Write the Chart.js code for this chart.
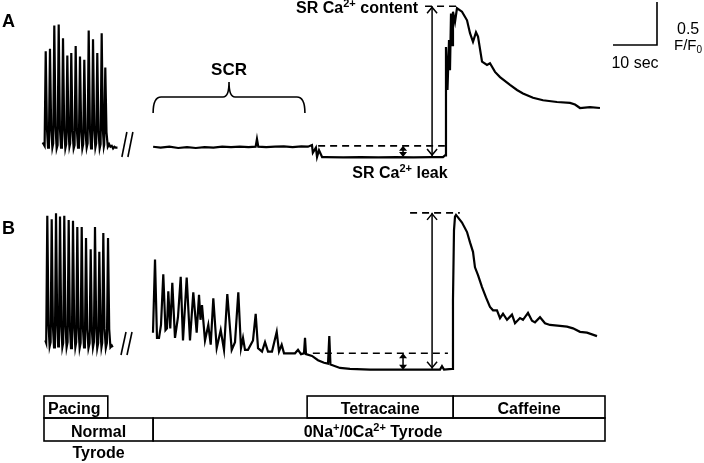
<!DOCTYPE html>
<html>
<head>
<meta charset="utf-8">
<script src="https://cdn.jsdelivr.net/npm/chart.js@4"></script>
<style>
  html, body { margin: 0; padding: 0; background: #fff; }
  canvas { display: block; }
</style>
</head>
<body>
<canvas id="traces" width="704" height="463"></canvas>
<script>
// [time (s), Ca2+ signal (F/F0)]
// panel A: field pacing in normal Tyrode
const paceA = [
  [-0.3, 1.03], [0.14, 0.99], [0.39, 2.09], [0.66, 1.2], [0.92, 0.97],
  [1.11, 1.01], [1.36, 2.12], [1.63, 1.18], [1.9, 0.97],
  [2.09, 1.02], [2.34, 2.39], [2.61, 1.22], [2.88, 0.96],
  [3.09, 1.0], [3.34, 2.40], [3.61, 1.2], [3.87, 0.97],
  [4.07, 1.02], [4.32, 2.24], [4.59, 1.18], [4.85, 0.96],
  [5.05, 1.01], [5.30, 2.04], [5.57, 1.16], [5.78, 0.98],
  [5.95, 1.02], [6.20, 2.07], [6.47, 1.17], [6.74, 0.96],
  [6.95, 1.0], [7.20, 2.15], [7.47, 1.18], [7.73, 0.97],
  [7.93, 1.02], [8.18, 2.03], [8.45, 1.16], [8.71, 0.96],
  [8.91, 1.01], [9.16, 1.99], [9.43, 1.15], [9.7, 0.97],
  [9.91, 1.02], [10.16, 2.33], [10.43, 1.2], [10.69, 0.96],
  [10.89, 1.0], [11.14, 2.23], [11.41, 1.18], [11.67, 0.97],
  [11.86, 1.02], [12.11, 2.07], [12.38, 1.16], [12.65, 0.96],
  [12.86, 1.01], [13.11, 2.30], [13.38, 1.18], [13.6, 0.98],
  [13.68, 1.0], [13.93, 1.90], [14.2, 1.15], [14.5, 0.98],
  [14.8, 1.01], [15.1, 0.98], [15.4, 0.99], [15.7, 0.96], [16.0, 0.98], [16.3, 0.97], [16.7, 0.97]
];
// panel A: 0Na+/0Ca2+ rest, tetracaine, caffeine
const restA = [
  [24.8, 0.98], [26.5, 0.97], [28.5, 0.98], [30.5, 0.965], [32.5, 0.975], [34.5, 0.965],
  [36.5, 0.975], [38.5, 0.97], [40.5, 0.98], [42.5, 0.975], [44.5, 0.98], [46.5, 0.975],
  [48.1, 0.98], [48.4, 1.07], [48.7, 0.98], [50.5, 0.975], [52.5, 0.98], [54.5, 0.985],
  [56.5, 0.975], [58.5, 0.985], [60.0, 0.98],
  [60.9, 1.0], [61.1, 0.91], [61.8, 0.97], [62.05, 0.86], [62.5, 0.94], [63.2, 0.86],
  [63.9, 0.86], [68, 0.855], [72, 0.86], [76, 0.855], [80, 0.86], [84, 0.855], [88, 0.86], [90.68, 0.86],
  [91.14, 0.88], [91.36, 2.14], [91.70, 1.64], [92.05, 2.22], [92.27, 1.87], [92.5, 2.53],
  [92.73, 2.16], [92.95, 2.55], [93.41, 2.43], [93.86, 2.59], [95.0, 2.55], [96.14, 2.45],
  [96.82, 2.30], [97.5, 2.20], [98.18, 2.31], [98.64, 2.26], [99.55, 1.97], [100.68, 1.93],
  [101.36, 1.95], [102.5, 1.85], [103.64, 1.79], [105.91, 1.70], [107.5, 1.64], [108.86, 1.60],
  [111.14, 1.55], [113.41, 1.52], [116.59, 1.50], [119.55, 1.49], [120.68, 1.47], [121.82, 1.43],
  [124.09, 1.44], [126.36, 1.43]
];
// panel B
const paceB = [
  [0.3, 1.03], [0.5, 1.0], [0.75, 2.48], [1.02, 1.22], [1.28, 0.96],
  [1.5, 1.01], [1.75, 2.44], [2.02, 1.2], [2.28, 0.95],
  [2.48, 1.0], [2.73, 2.51], [3.0, 1.22], [3.22, 0.96],
  [3.39, 1.01], [3.64, 2.47], [3.91, 1.2], [4.17, 0.95],
  [4.36, 1.0], [4.61, 2.48], [4.88, 1.2], [5.14, 0.95],
  [5.36, 1.01], [5.61, 2.43], [5.88, 1.2], [6.14, 0.94],
  [6.34, 1.0], [6.59, 2.42], [6.86, 1.18], [7.12, 0.95],
  [7.32, 1.01], [7.57, 2.35], [7.84, 1.18], [8.1, 0.94],
  [8.32, 1.0], [8.57, 2.35], [8.84, 1.18], [9.1, 0.95],
  [9.3, 1.01], [9.55, 2.22], [9.82, 1.16], [10.1, 0.94],
  [10.36, 1.0], [10.61, 2.09], [10.88, 1.15], [11.13, 0.95],
  [11.34, 1.01], [11.59, 2.35], [11.86, 1.18], [12.1, 0.94],
  [12.32, 1.0], [12.57, 2.06], [12.84, 1.15], [13.06, 0.95],
  [13.23, 1.0], [13.48, 2.28], [13.75, 1.17], [14.05, 0.94],
  [14.3, 1.0], [14.55, 2.22], [14.82, 1.16], [15.1, 0.95], [15.4, 0.97], [15.6, 0.95]
];
const restB = [
  [24.77, 1.12], [25.23, 1.97], [25.68, 1.06], [26.14, 1.06], [26.59, 1.21], [27.11, 1.80],
  [27.61, 1.15], [27.95, 1.17], [28.25, 1.60], [28.70, 1.17], [29.16, 1.70], [29.77, 1.06],
  [30.45, 1.30], [31.07, 1.77], [31.59, 1.03], [32.43, 1.76], [33.18, 1.03], [33.93, 1.59],
  [34.70, 1.12], [35.23, 1.56], [35.57, 1.27], [35.91, 1.44], [36.59, 1.03], [37.34, 1.21],
  [37.89, 0.98], [38.48, 1.52], [39.25, 0.94], [40.16, 1.15], [40.91, 0.92], [41.66, 1.57],
  [42.66, 0.92], [43.41, 1.01], [44.16, 1.59], [44.77, 0.94], [45.23, 1.06], [45.68, 0.92],
  [46.36, 0.92], [47.5, 1.03], [48.11, 1.34], [48.64, 0.94], [49.55, 0.90], [50.23, 1.01],
  [50.91, 0.90], [51.82, 0.90], [52.89, 1.13], [53.41, 0.90], [54.02, 0.98], [54.55, 0.88],
  [55.91, 0.88], [57.05, 0.88], [57.73, 0.92], [58.41, 0.87], [59.09, 0.88], [59.32, 1.06],
  [59.55, 0.87], [60.91, 0.85], [62.27, 0.80], [63.64, 0.77], [64.55, 0.76], [64.84, 1.08],
  [65.1, 0.75], [67.27, 0.71], [69.55, 0.70], [74.09, 0.69], [80.91, 0.69], [85.45, 0.69],
  [90.0, 0.69], [90.45, 0.73], [90.91, 0.69], [92.73, 0.70],
  [92.95, 1.50], [93.18, 2.31], [93.41, 2.47], [93.64, 2.49], [95.0, 2.40], [96.14, 2.29],
  [96.82, 2.17], [97.5, 2.06], [97.95, 1.88], [98.64, 1.79], [99.55, 1.65], [100.45, 1.53],
  [101.36, 1.42], [102.05, 1.38], [102.95, 1.38], [103.64, 1.29], [104.32, 1.34], [105.23, 1.27],
  [106.36, 1.33], [107.05, 1.23], [108.18, 1.29], [108.86, 1.27], [110.0, 1.35], [110.91, 1.26],
  [111.59, 1.24], [112.73, 1.30], [113.86, 1.23], [115.0, 1.21], [117.27, 1.20], [118.86, 1.19],
  [120.23, 1.17], [121.82, 1.13], [123.41, 1.12], [125.68, 1.08]
];

// protocol bar
const pacingTimes = [0, 14.5];
const solutionLabels = ['Normal', '0Na^{+}/0Ca^{2+} Tyrode'];
const solutionTimes = [0, 24.8, 127.5];
const drugLabels = ['Tetracaine', 'Caffeine'];
const drugTimes = [59.8, 93.0, 127.5];

// levels used for the SR content / leak markers (F/F0)
const restLevels = [0.99, 0.88];   // A, B before tetracaine
const tetraLevels = [0.86, 0.69];  // A, B in tetracaine

const toXY = arr => arr.map(p => ({ x: p[0], y: p[1] }));
const peakOf = arr => Math.max(...arr.filter(p => p[0] > 90).map(p => p[1]));

// 86 px per F/F0 unit, baseline of A at 145 px, B at 343 px
const H = 463, unit = 86;
const yRange = base => ({ min: 1 - (H - base) / unit, max: 1 + base / unit });

const FAM = '"Liberation Sans", Arial, Helvetica, sans-serif';

function parseRich(s) {
  const parts = [];
  const re = /([\^_])\{([^}]*)\}/g;
  let last = 0, m;
  while ((m = re.exec(s))) {
    if (m.index > last) parts.push([s.slice(last, m.index), 0]);
    parts.push([m[2], m[1] === '^' ? -1 : 1]);
    last = re.lastIndex;
  }
  if (last < s.length) parts.push([s.slice(last), 0]);
  return parts;
}

function drawText(ctx, s, x, y, size, opts = {}) {
  const weight = opts.bold === false ? '' : 'bold ';
  const sx = opts.sx || 1;
  const parts = parseRich(s);
  const fontFor = k => weight + (k ? Math.round(size * 0.66) : size) + 'px ' + FAM;
  let w = 0;
  parts.forEach(p => { ctx.font = fontFor(p[1]); w += ctx.measureText(p[0]).width * sx; });
  let cx = opts.align === 'center' ? x - w / 2 : opts.align === 'right' ? x - w : x;
  ctx.textAlign = 'left';
  ctx.textBaseline = 'alphabetic';
  parts.forEach(p => {
    ctx.font = fontFor(p[1]);
    const dy = p[1] === -1 ? -size * 0.4 : p[1] === 1 ? size * 0.22 : 0;
    ctx.save();
    ctx.translate(cx, y + dy);
    ctx.scale(sx, 1);
    ctx.fillText(p[0], 0, 0);
    ctx.restore();
    cx += ctx.measureText(p[0]).width * sx;
  });
}

function line(ctx, x1, y1, x2, y2) {
  ctx.beginPath(); ctx.moveTo(x1, y1); ctx.lineTo(x2, y2); ctx.stroke();
}

function dashed(ctx, x1, x2, y) {
  ctx.save();
  ctx.setLineDash([7, 5]);
  ctx.lineWidth = 1.6;
  line(ctx, x1, y, x2, y);
  ctx.restore();
}

// vertical double arrow with open heads
function arrow(ctx, x, y1, y2) {
  ctx.lineWidth = 1.5;
  line(ctx, x, y1, x, y2);
  ctx.beginPath();
  ctx.moveTo(x - 5, y1 + 7); ctx.lineTo(x, y1 + 1); ctx.lineTo(x + 5, y1 + 7);
  ctx.moveTo(x - 5, y2 - 7); ctx.lineTo(x, y2 - 1); ctx.lineTo(x + 5, y2 - 7);
  ctx.stroke();
}

// short double arrow with filled heads
function smallArrow(ctx, x, y1, y2) {
  ctx.lineWidth = 1.5;
  line(ctx, x, y1 + 2, x, y2 - 2);
  ctx.beginPath();
  ctx.moveTo(x - 4, y1 + 5); ctx.lineTo(x, y1); ctx.lineTo(x + 4, y1 + 5); ctx.closePath();
  ctx.moveTo(x - 4, y2 - 5); ctx.lineTo(x, y2); ctx.lineTo(x + 4, y2 - 5); ctx.closePath();
  ctx.fill();
}

function breakMark(ctx, x, yTop, yBot) {
  ctx.lineWidth = 1.6;
  line(ctx, x, yBot, x + 5, yTop);
  line(ctx, x + 6, yBot, x + 11, yTop);
}

const annotations = {
  id: 'annotations',
  afterDatasetsDraw(chart) {
    const { ctx } = chart;
    const xs = chart.scales.x;
    const X = t => xs.getPixelForValue(t);
    const panels = [chart.scales.yA, chart.scales.yB];
    const peaks = [peakOf(restA), peakOf(restB)];
    ctx.save();
    ctx.strokeStyle = '#000';
    ctx.fillStyle = '#000';
    ctx.lineCap = 'butt';

    // panel letters
    drawText(ctx, 'A', 2, 27, 18);
    drawText(ctx, 'B', 2, 234, 18);

    // break marks
    breakMark(ctx, X(17.7), 132, 157);
    breakMark(ctx, X(17.5), 332, 355);

    // SCR bracket
    const bl = X(24.8), br = X(59.3), bm = (bl + br) / 2;
    ctx.lineWidth = 1.6;
    ctx.beginPath();
    ctx.moveTo(bl, 113);
    ctx.quadraticCurveTo(bl, 97, bl + 8, 97);
    ctx.lineTo(bm - 6, 97);
    ctx.quadraticCurveTo(bm, 97, bm, 82);
    ctx.quadraticCurveTo(bm, 97, bm + 6, 97);
    ctx.lineTo(br - 8, 97);
    ctx.quadraticCurveTo(br, 97, br, 113);
    ctx.stroke();
    drawText(ctx, 'SCR', bm, 75, 17, { align: 'center' });

    // SR content / leak markers
    const leakStart = [62.3, 61.1], leakEnd = [91.1, 91.8], topStart = [86.6, 83.2];
    panels.forEach((ys, i) => {
      const yPeak = ys.getPixelForValue(peaks[i]) - 2;
      const yRest = ys.getPixelForValue(restLevels[i]);
      const yTet = ys.getPixelForValue(tetraLevels[i]);
      dashed(ctx, X(topStart[i]), X(94.5), yPeak);
      dashed(ctx, X(leakStart[i]), X(leakEnd[i]), yRest);
      arrow(ctx, X(88.2), yPeak, yTet - 1);
      smallArrow(ctx, X(81.6), yRest, yTet);
    });
    drawText(ctx, 'SR Ca^{2+} content', 418, 13, 16, { align: 'right' });
    drawText(ctx, 'SR Ca^{2+} leak', 400, 178, 16, { align: 'center' });

    // scale bar: 10 s by 0.5 F/F0
    const sbx = 657, sby = 45;
    const dx = X(10) - X(0);
    const dy = panels[0].getPixelForValue(1) - panels[0].getPixelForValue(1.5);
    ctx.lineWidth = 1.6;
    ctx.beginPath();
    ctx.moveTo(sbx - dx, sby); ctx.lineTo(sbx, sby); ctx.lineTo(sbx, sby - dy);
    ctx.stroke();
    drawText(ctx, '0.5', 677, 34, 16, { bold: false });
    drawText(ctx, 'F/F_{0}', 674, 50, 15, { bold: false });
    drawText(ctx, '10 sec', sbx - dx / 2, 68, 16, { bold: false, align: 'center' });

    // protocol bar
    const r1 = 396, r2 = 418, r3 = 441;
    ctx.lineWidth = 1.6;
    ctx.strokeRect(X(pacingTimes[0]), r1, X(pacingTimes[1]) - X(pacingTimes[0]), r2 - r1);
    drawText(ctx, 'Pacing', X(pacingTimes[0]) + 4, 414, 16);
    drugLabels.forEach((lab, i) => {
      const a = X(drugTimes[i]), b = X(drugTimes[i + 1]);
      ctx.strokeRect(a, r1, b - a, r2 - r1);
      drawText(ctx, lab, (a + b) / 2, 414, 16, { align: 'center' });
    });
    solutionLabels.forEach((lab, i) => {
      const a = X(solutionTimes[i]), b = X(solutionTimes[i + 1]);
      ctx.strokeRect(a, r2, b - a, r3 - r2);
      drawText(ctx, lab, (a + b) / 2 - (i ? 6 : 0), 437, 16, { align: 'center' });
    });
    drawText(ctx, 'Tyrode', (X(solutionTimes[0]) + X(solutionTimes[1])) / 2, 458, 16, { align: 'center' });

    ctx.restore();
  }
};

const trace = (data, axis) => ({
  data: toXY(data),
  yAxisID: axis,
  borderColor: '#000',
  borderWidth: 2.2,
  pointRadius: 0,
  tension: 0,
  clip: false
});

new Chart(document.getElementById('traces'), {
  type: 'line',
  data: {
    datasets: [
      trace(paceA, 'yA'),
      trace(restA, 'yA'),
      trace(paceB, 'yB'),
      trace(restB, 'yB')
    ]
  },
  options: {
    responsive: false,
    animation: false,
    layout: { padding: 0 },
    plugins: { legend: { display: false }, tooltip: { enabled: false } },
    scales: {
      x: { type: 'linear', min: -10, max: 150, display: false },
      yA: Object.assign({ type: 'linear', display: false }, yRange(145)),
      yB: Object.assign({ type: 'linear', display: false }, yRange(343))
    }
  },
  plugins: [annotations]
});
</script>
</body>
</html>
